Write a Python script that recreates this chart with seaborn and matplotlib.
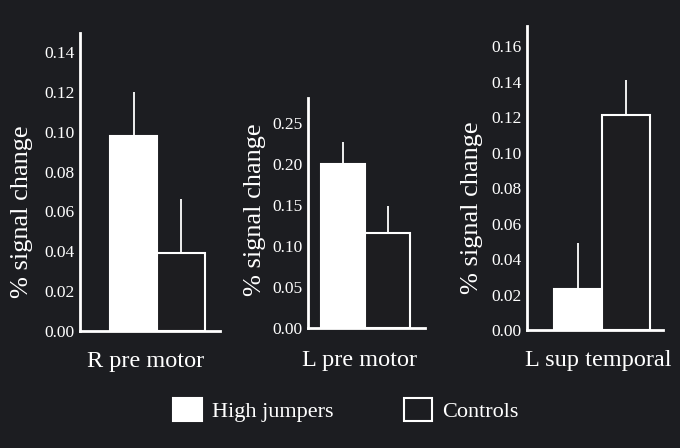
import matplotlib
matplotlib.use("Agg")
import matplotlib.pyplot as plt
import seaborn as sns
import pandas as pd
from matplotlib.patches import Patch

groups = ["High jumpers", "Controls"]
regions = ["R pre motor", "L pre motor", "L sup temporal"]
means_r_premotor = [0.098, 0.039]
errs_r_premotor = [0.022, 0.027]
means_l_premotor = [0.200, 0.116]
errs_l_premotor = [0.027, 0.033]
means_l_suptemp = [0.023, 0.121]
errs_l_suptemp = [0.026, 0.020]
yticks_r_premotor = [0.00, 0.02, 0.04, 0.06, 0.08, 0.10, 0.12, 0.14]
yticks_l_premotor = [0.00, 0.05, 0.10, 0.15, 0.20, 0.25]
yticks_l_suptemp = [0.00, 0.02, 0.04, 0.06, 0.08, 0.10, 0.12, 0.14, 0.16]

BG = "#1c1d21"
FG = "white"
sns.set_theme(style="ticks")
plt.rcParams["font.family"] = ["Liberation Serif", "DejaVu Serif"]

fig = plt.figure(figsize=(6.8, 4.48), dpi=100, facecolor=BG)

W, H = 680.0, 448.0
def rect(l, r, b, t):
    return [l / W, (H - b) / H, (r - l) / W, (b - t) / H]

panels = [
    (rect(80, 220, 331, 33), regions[0], means_r_premotor, errs_r_premotor, yticks_r_premotor,
     (0, 0.1495), (-1.13, 1.82), (-0.414, 0.399), (0.468, -0.101)),
    (rect(308, 425, 328, 98), regions[1], means_l_premotor, errs_l_premotor, yticks_l_premotor,
     (0, 0.2805), (-0.79, 1.84), (-0.453, 0.513), (0.444, -0.143)),
    (rect(527, 663, 330, 26), regions[2], means_l_suptemp, errs_l_suptemp, yticks_l_suptemp,
     (0, 0.1713), (-1.06, 1.77), (-0.404, 0.401), (0.522, -0.101)),
]

for pos, name, means, errs, yt, ylim, xlim, ylc, xlc in panels:
    ax = fig.add_axes(pos)
    ax.set_facecolor(BG)
    df = pd.DataFrame({"group": groups, "value": means})
    sns.barplot(data=df, x="group", y="value", hue="group",
                palette={"High jumpers": FG, "Controls": BG},
                width=1.0, errorbar=None, legend=False, ax=ax,
                edgecolor=FG, linewidth=1.5)
    ax.errorbar([0, 1], means, yerr=[[0, 0], errs], fmt="none",
                ecolor=FG, elinewidth=1.3, capsize=0)
    ax.set_ylim(*ylim)
    ax.set_xlim(*xlim)
    ax.set_yticks(yt)
    ax.set_yticklabels(["%.2f" % v for v in yt], color=FG, fontsize=12.5)
    ax.set_xticks([])
    ax.tick_params(axis="y", length=0, pad=4)
    for s in ["top", "right"]:
        ax.spines[s].set_visible(False)
    for s in ["left", "bottom"]:
        ax.spines[s].set_color(FG)
        ax.spines[s].set_linewidth(2)
    ax.set_ylabel("% signal change", color=FG, fontsize=19, va="center")
    ax.yaxis.set_label_coords(*ylc)
    ax.set_xlabel(name, color=FG, fontsize=17.5, va="center")
    ax.xaxis.set_label_coords(*xlc)

handles = [Patch(facecolor=FG, edgecolor=FG, linewidth=1.5, label=groups[0]),
           Patch(facecolor=BG, edgecolor=FG, linewidth=1.5, label=groups[1])]
leg = fig.legend(handles=handles, loc="center", bbox_to_anchor=(0.509, 0.085),
                 ncol=2, frameon=False, fontsize=16, handlelength=1.27,
                 handleheight=1.23, handletextpad=0.45, columnspacing=3.2)
for t in leg.get_texts():
    t.set_color(FG)

fig.savefig("out.png", dpi=100, facecolor=BG)
